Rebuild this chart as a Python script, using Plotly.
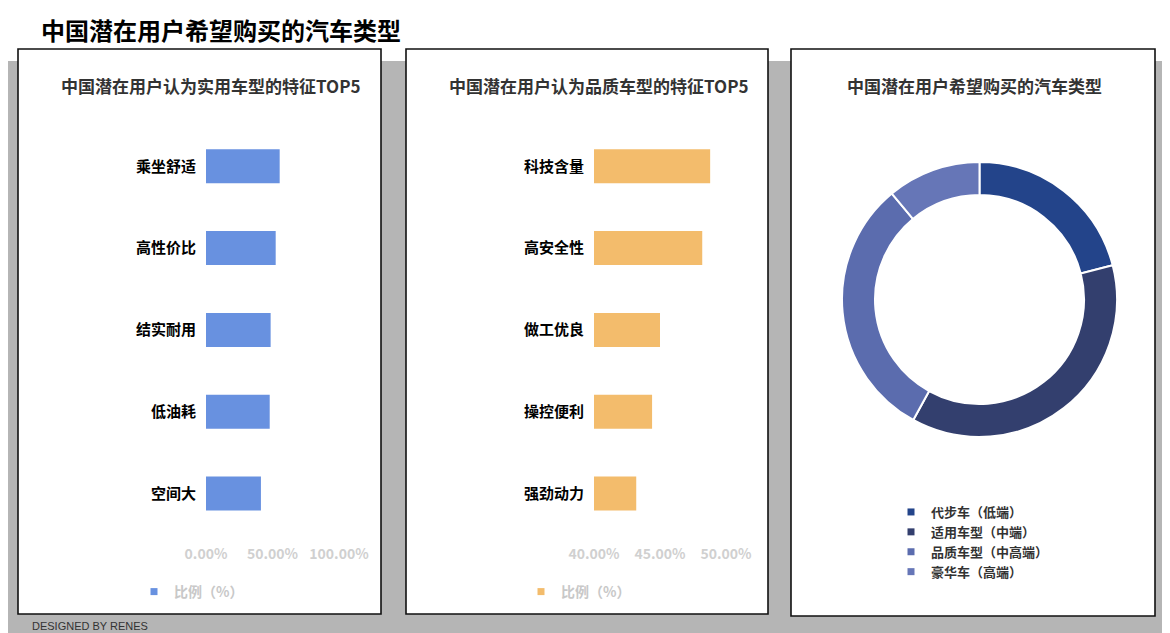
import plotly.graph_objects as go

# ---------------- data ----------------
practical_labels = ["乘坐舒适", "高性价比", "结实耐用", "低油耗", "空间大"]
practical_values = [55.4, 52.4, 48.6, 47.9, 41.3]

quality_labels = ["科技含量", "高安全性", "做工优良", "操控便利", "强劲动力"]
quality_values = [48.8, 48.2, 45.0, 44.4, 43.2]

practical_ticks = [0, 50, 100]
practical_ticktext = ["0.00%", "50.00%", "100.00%"]
quality_ticks = [40, 45, 50]
quality_ticktext = ["40.00%", "45.00%", "50.00%"]

car_types = ["代步车（低端）", "适用车型（中端）", "品质车型（中高端）", "豪华车（高端）"]
car_shares = [21, 37, 31, 11]
car_colors = ["#23448a", "#333f6e", "#5b6cae", "#6676b7"]

series_name = "比例（%）"

# ---------------- geometry helpers ----------------
# the page body has an 8px margin, so the figure starts at (8, 8) in the window
W, H = 1170, 633
OFF = 8
def px(x):
    return (x - OFF) / W
def py(y):
    return 1 - (y - OFF) / H

FONT = "Noto Sans CJK SC, Noto Sans, sans-serif"
BLUE = "#6891e0"
ORANGE = "#f3bc6c"

fig = go.Figure()

fig.add_trace(go.Bar(
    x=practical_values, y=practical_labels, orientation="h",
    marker=dict(color=BLUE, line=dict(width=0)),
    xaxis="x", yaxis="y", name=series_name, showlegend=False,
))
fig.add_trace(go.Bar(
    x=quality_values, y=quality_labels, orientation="h",
    marker=dict(color=ORANGE, line=dict(width=0)),
    xaxis="x2", yaxis="y2", name=series_name, showlegend=False,
))
# legend proxies (small squares)
fig.add_trace(go.Scatter(x=[None], y=[None], mode="markers", name=series_name,
                         marker=dict(symbol="square", size=7, color=BLUE),
                         xaxis="x", yaxis="y", legend="legend"))
fig.add_trace(go.Scatter(x=[None], y=[None], mode="markers", name=series_name,
                         marker=dict(symbol="square", size=7, color=ORANGE),
                         xaxis="x2", yaxis="y2", legend="legend2"))

fig.add_trace(go.Pie(
    labels=car_types, values=car_shares, hole=0.76, sort=False,
    direction="clockwise", rotation=0,
    marker=dict(colors=car_colors, line=dict(color="white", width=2)),
    textinfo="none", showlegend=False,
    domain=dict(x=[px(842), px(1117)], y=[py(437), py(162)]),
))
for name, col in zip(car_types, car_colors):
    fig.add_trace(go.Scatter(x=[None], y=[None], mode="markers", name=name,
                             marker=dict(symbol="square", size=7, color=col),
                             xaxis="x", yaxis="y", legend="legend3"))

ydom = [py(534.4), py(125.4)]
tickfont_x = dict(family=FONT, size=14, color="#d0d0d0", weight="bold")
tickfont_y = dict(family=FONT, size=15, color="#000000", weight="bold")

common_x = dict(showgrid=False, zeroline=False, showline=False, ticks="outside",
                ticklen=7, tickcolor="rgba(0,0,0,0)", tickfont=tickfont_x, fixedrange=True)
common_y = dict(showgrid=False, zeroline=False, showline=False, ticks="outside",
                ticklen=6, tickcolor="rgba(0,0,0,0)", tickfont=tickfont_y,
                autorange="reversed", type="category", fixedrange=True)

shapes = [
    # gray background band
    dict(type="rect", xref="paper", yref="paper", x0=0, x1=1, y0=0, y1=py(61),
         fillcolor="#b5b5b5", line=dict(width=0), layer="below"),
]
for (x0, x1, y0, y1) in [(18, 381, 49, 614), (406, 768, 49, 614), (791, 1155, 49, 616)]:
    shapes.append(dict(type="rect", xref="paper", yref="paper",
                       x0=px(x0), x1=px(x1), y0=py(y1), y1=py(y0),
                       fillcolor="white", line=dict(color="#111111", width=1.6),
                       layer="below"))

annotations = [
    dict(text="中国潜在用户希望购买的汽车类型", x=px(39), y=py(30), xref="paper", yref="paper",
         xanchor="left", yanchor="middle", showarrow=False,
         font=dict(family=FONT, size=24, color="#000000", weight="bold")),
    dict(text="中国潜在用户认为实用车型的特征TOP5", x=px(211), y=py(85), xref="paper", yref="paper",
         xanchor="center", yanchor="middle", showarrow=False,
         font=dict(family=FONT, size=17, color="#333333", weight="bold")),
    dict(text="中国潜在用户认为品质车型的特征TOP5", x=px(599), y=py(85), xref="paper", yref="paper",
         xanchor="center", yanchor="middle", showarrow=False,
         font=dict(family=FONT, size=17, color="#333333", weight="bold")),
    dict(text="中国潜在用户希望购买的汽车类型", x=px(975), y=py(85), xref="paper", yref="paper",
         xanchor="center", yanchor="middle", showarrow=False,
         font=dict(family=FONT, size=17, color="#333333", weight="bold")),
    dict(text="DESIGNED BY RENES", x=px(30), y=py(626), xref="paper", yref="paper",
         xanchor="left", yanchor="middle", showarrow=False,
         font=dict(family="Liberation Sans, Arial, sans-serif", size=11, color="#333333")),
]

legend_font_bar = dict(family=FONT, size=14, color="#c8c8c8", weight="bold")
fig.update_layout(
    width=W, height=H,
    margin=dict(l=0, r=0, t=0, b=0, pad=0, autoexpand=False),
    paper_bgcolor="white", plot_bgcolor="rgba(0,0,0,0)",
    bargap=0.584,
    xaxis=dict(domain=[px(206), px(339)], range=[0, 100], tickvals=practical_ticks,
               ticktext=practical_ticktext, anchor="y", **common_x),
    yaxis=dict(domain=ydom, categoryorder="array", categoryarray=practical_labels,
               anchor="x", **common_y),
    xaxis2=dict(domain=[px(594), px(726)], range=[40, 50], tickvals=quality_ticks,
                ticktext=quality_ticktext, anchor="y2", **common_x),
    yaxis2=dict(domain=ydom, categoryorder="array", categoryarray=quality_labels,
                anchor="x2", **common_y),
    legend=dict(x=px(134), y=py(592), xanchor="left", yanchor="middle",
                bgcolor="rgba(0,0,0,0)", font=legend_font_bar, itemclick=False),
    legend2=dict(x=px(521), y=py(592), xanchor="left", yanchor="middle",
                 bgcolor="rgba(0,0,0,0)", font=legend_font_bar, itemclick=False),
    legend3=dict(x=px(891), y=py(542), xanchor="left", yanchor="middle",
                 bgcolor="rgba(0,0,0,0)", tracegroupgap=0,
                 font=dict(family=FONT, size=13, color="#333333", weight="bold"),
                 itemclick=False),
    shapes=shapes,
    annotations=annotations,
    showlegend=True,
)

fig.write_html("out.html")
